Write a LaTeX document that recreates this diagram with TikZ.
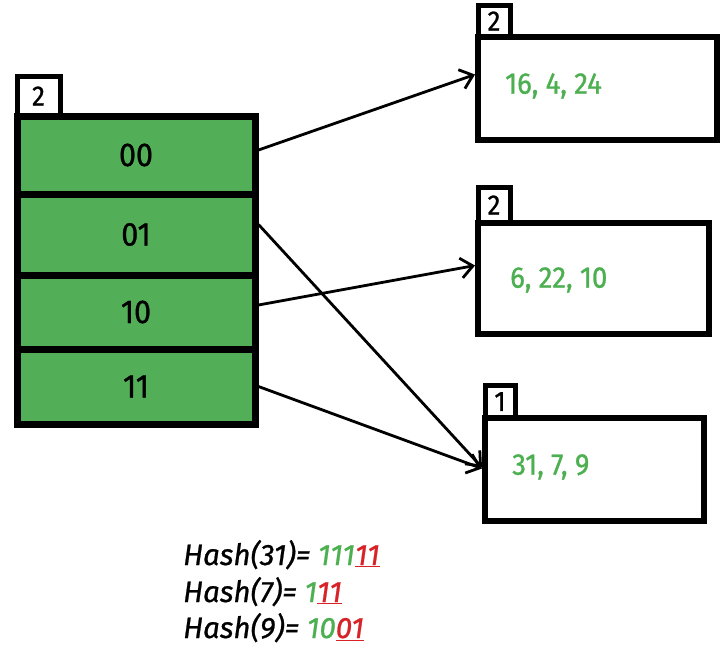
\documentclass[tikz,border=0pt]{standalone}
\usepackage{fontspec}
\setmainfont{Fira Sans}
\newfontfamily\dinfont{Fira Sans}[FakeBold=0.9,FakeStretch=0.92]
\newfontfamily\hashfont{Fira Sans}[FakeBold=0.8]
\definecolor{vert}{RGB}{82,174,87}
\definecolor{vertclair}{RGB}{76,175,80}
\definecolor{rouge}{RGB}{215,35,40}
\usetikzlibrary{arrows.meta}
\begin{document}
\begin{tikzpicture}[x=1pt,y=-1pt,
	cell/.style={draw=black,fill=vert,line width=7pt,minimum width=238pt,inner sep=0pt,
		font=\dinfont\fontsize{33}{36}\selectfont},
	bucket/.style={draw=black,line width=6pt,inner sep=0pt},
	tag/.style={draw=black,fill=white,line width=5pt,inner sep=0pt,
		font=\dinfont\fontsize{28}{30}\selectfont},
	keys/.style={anchor=west,inner sep=0pt,text=vertclair,font=\dinfont\fontsize{30}{32}\selectfont},
	hash/.style={anchor=base west,inner sep=0pt,font=\hashfont\itshape\fontsize{29.5}{31}\selectfont},
	arr/.style={-{Straight Barb[length=12pt,width=20pt]},line width=2.8pt}]
					\useasboundingbox[fill=white] (0,0) rectangle (727,665);
					% directory
					\node[tag,minimum width=43pt,minimum height=40pt] (t0) at (38.5,96){2};
					\node[cell,minimum height=78pt] (c00) at (136,155){00};
					\node[cell,minimum height=81pt] (c01) at (136,234.5){01};
					\node[cell,minimum height=74pt] (c10) at (136,312){10};
					\node[cell,minimum height=75pt] (c11) at (136,386.5){11};
					% buckets
					\node[tag,minimum width=32pt,minimum height=32pt] (t1) at (494,21){2};
					\node[bucket,minimum width=239pt,minimum height=103pt] (b1) at (597.5,88.5){};
					\node[tag,minimum width=32pt,minimum height=36pt] (t2) at (494,205){2};
					\node[bucket,minimum width=231pt,minimum height=111pt] (b2) at (593.5,278.5){};
					\node[tag,minimum width=30pt,minimum height=33pt] (t3) at (500,401.5){1};
					\node[bucket,minimum width=219pt,minimum height=103pt] (b3) at (594.5,469.5){};
					\node[keys] (k1) at (505,86){16, 4, 24};
					\node[keys] (k2) at (510,280){6, 22, 10};
					\node[keys] (k3) at (512,467){31, 7, 9};
					% pointers
					\draw[arr]([yshift=5pt]c00.east)--([yshift=14pt]b1.west);
					\draw[arr]([yshift=10pt]c01.east)--([yshift=2pt]b3.west);
					\draw[arr]([yshift=7pt]c10.east)--([yshift=13pt]b2.west);
					\draw[arr](c11.east)--([yshift=1pt]b3.west);
					% hash values
					\node[hash] (h31) at (183,565){Hash(31)= \textcolor{vertclair}{111}\textcolor{rouge}{\underline{11}}};
					\node[hash] (h7) at (183,602){Hash(7)= \textcolor{vertclair}{1}\textcolor{rouge}{\underline{11}}};
					\node[hash] (h9) at (183,638){Hash(9)= \textcolor{vertclair}{10}\textcolor{rouge}{\underline{01}}};
\end{tikzpicture}
\end{document}
